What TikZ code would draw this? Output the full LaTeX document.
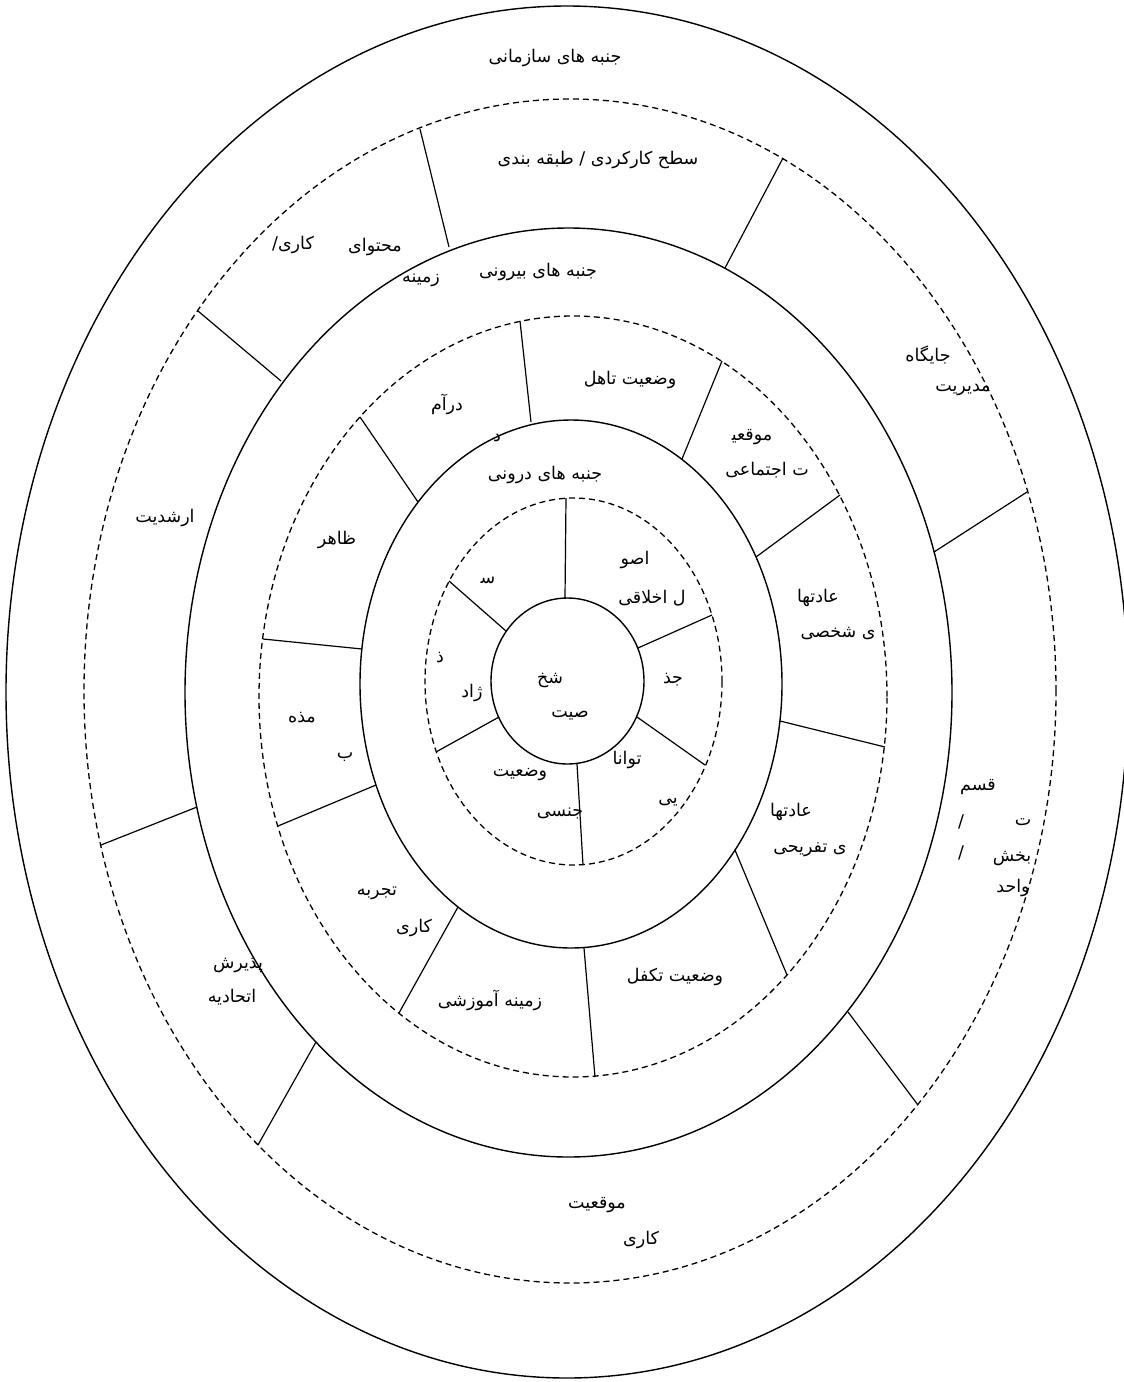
\documentclass[tikz,border=0pt]{standalone}
\usepackage{fontspec}
\newfontfamily\arabicfont[Script=Arabic]{DejaVu Sans}
\TeXXeTstate=1
\newcommand\fa[1]{\beginR #1\endR}
\newcommand\zwj{^^^^200d}
\begin{document}
\begin{tikzpicture}[x=1pt,y=-1pt,
  ring/.style={line width=1.4pt},
  dring/.style={line width=1.3pt, dash pattern=on 6pt off 4pt},
  divider/.style={line width=1.2pt},
  lbl/.style={font=\arabicfont\fontsize{17.5}{20}\selectfont, inner sep=0pt, anchor=center}]
\useasboundingbox (0,0) rectangle (1124,1382);
\fill[white] (0,0) rectangle (1124,1382);
% ellipses
\draw[ring]  (567,692)   ellipse [x radius=561pt,   y radius=686pt];
\draw[dring] (570,691)   ellipse [x radius=486pt,   y radius=592pt];
\draw[ring]  (568.5,692.5) ellipse [x radius=383.5pt, y radius=464.5pt];
\draw[dring] (573,696.5) ellipse [x radius=314pt,   y radius=380.5pt];
\draw[ring]  (571,684)   ellipse [x radius=211pt,   y radius=264pt];
\draw[dring] (573.5,681.5) ellipse [x radius=148.5pt, y radius=183.5pt];
\draw[ring]  (567.5,681) ellipse [x radius=76.5pt,  y radius=83pt];
% dividers ring 2
\draw[divider] (420,129) -- (449,247);
\draw[divider] (783,158) -- (725,268);
\draw[divider] (198,311) -- (281,381);
\draw[divider] (1027,492) -- (934,552);
\draw[divider] (101,845) -- (197,807);
\draw[divider] (258,1145) -- (316,1042);
\draw[divider] (918,1105) -- (848,1012);
% dividers ring 4
\draw[divider] (520,321) -- (531,422);
\draw[divider] (722,361) -- (682,459);
\draw[divider] (840,495) -- (756,557);
\draw[divider] (780,721) -- (885,747);
\draw[divider] (735,850) -- (787,975);
\draw[divider] (584,948) -- (595,1077);
\draw[divider] (458,907) -- (399,1013);
\draw[divider] (376,785) -- (278,826);
\draw[divider] (362,649) -- (263,639);
\draw[divider] (360,417) -- (418,502);
% dividers ring 6
\draw[divider] (566,498) -- (565,598);
\draw[divider] (712,615) -- (638,648);
\draw[divider] (637,717) -- (705,765);
\draw[divider] (577,764) -- (583,865);
\draw[divider] (499,717) -- (436,752);
\draw[divider] (449,581) -- (506,631);
% labels outer ring
\node[lbl] (t1) at (555,58) {\fa{جنبه های سازمانی}};
\node[lbl] (t2) at (598,160) {\fa{سطح کارکردی / طبقه بندی}};
\node[lbl] (t3) at (375,247) {\fa{محتوای}};
\node[lbl] (t4) at (293,245) {\fa{کاری/}};
\node[lbl] (t5) at (421,280) {\fa{زمینه}};
\node[lbl] (t7) at (928,355) {\fa{جایگاه}};
\node[lbl] (t8) at (963,390) {\fa{مدیریت}};
\node[lbl] (t9) at (165,518) {\fa{ارشدیت}};
\node[lbl] (t10) at (978,787) {\fa{قسم}};
\node[lbl] (t11) at (961,822) {/};
\node[lbl] (t12) at (1023,822) {\fa{ت}};
\node[lbl] (t13) at (961,853) {/};
\node[lbl] (t14) at (1012,858) {\fa{بخش}};
\node[lbl] (t15) at (1013,888) {\fa{واحد}};
\node[lbl] (t16) at (238,965) {\fa{پذیرش}};
\node[lbl] (t17) at (232,997) {\fa{اتحادیه}};
\node[lbl] (t18) at (597,1205) {\fa{موقعیت}};
\node[lbl] (t19) at (641,1240) {\fa{کاری}};
% ring 3
\node[lbl] (t6) at (538,272) {\fa{جنبه های بیرونی}};
% ring 4
\node[lbl] (r1) at (630,380) {\fa{وضعیت تاهل}};
\node[lbl] (r2) at (447,404) {\fa{درآم}};
\node[lbl] (r3) at (497,438) {\fa{د}};
\node[lbl] (r4) at (752,437) {\fa{موقعی\zwj}};
\node[lbl] (r5) at (767,470) {\fa{ت اجتماعی}};
\node[lbl] (r6) at (337,540) {\fa{ظاهر}};
\node[lbl] (r7) at (818,598) {\fa{عادتها}};
\node[lbl] (r8) at (838,634) {\fa{ی شخصی}};
\node[lbl] (r9) at (302,718) {\fa{مذه}};
\node[lbl] (r10) at (345,757) {\fa{ب}};
\node[lbl] (r11) at (791,812) {\fa{عادتها}};
\node[lbl] (r12) at (810,850) {\fa{ی تفریحی}};
\node[lbl] (r13) at (377,893) {\fa{تجربه}};
\node[lbl] (r14) at (414,928) {\fa{کاری}};
\node[lbl] (r15) at (490,1000) {\fa{زمینه آموزشی}};
\node[lbl] (r16) at (675,977) {\fa{وضعیت تکفل}};
% ring 5
\node[lbl] (s0) at (545,475) {\fa{جنبه های درونی}};
% ring 6
\node[lbl] (s1) at (488,580) {\fa{س\zwj}};
\node[lbl] (s2) at (635,560) {\fa{اصو}};
\node[lbl] (s3) at (652,598) {\fa{ل اخلاقی}};
\node[lbl] (s4) at (673,680) {\fa{جذ}};
\node[lbl] (s5) at (440,658) {\fa{ذ}};
\node[lbl] (s6) at (472,693) {\fa{ژاد}};
\node[lbl] (s7) at (627,760) {\fa{توانا}};
\node[lbl] (s8) at (668,802) {\fa{یی}};
\node[lbl] (s9) at (520,775) {\fa{وضعیت}};
\node[lbl] (s10) at (560,813) {\fa{جنسی}};
% center
\node[lbl] (c1) at (550,680) {\fa{شخ}};
\node[lbl] (c2) at (570,715) {\fa{صیت}};
\end{tikzpicture}
\end{document}
